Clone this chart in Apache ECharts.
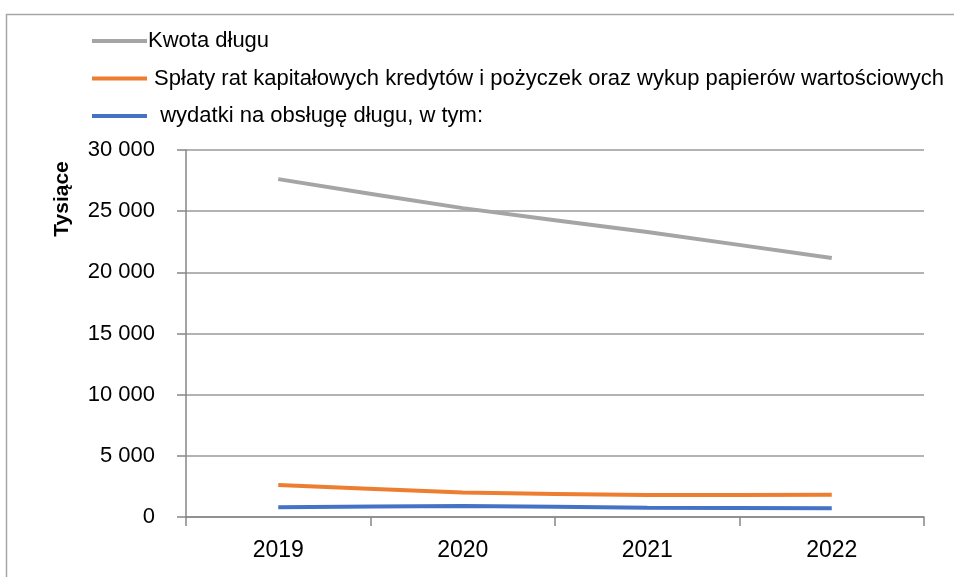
<!DOCTYPE html>
<html><head><meta charset="utf-8">
<script src="https://cdn.jsdelivr.net/npm/echarts@6/dist/echarts.min.js"></script>
<style>html,body{margin:0;padding:0;background:#fff}#c{width:954px;height:577px}</style>
</head><body><div id="c"></div>
<script>
var categories = ['2019', '2020', '2021', '2022'];
var seriesNames = ['Kwota długu', ' Spłaty rat kapitałowych kredytów i pożyczek oraz wykup papierów wartościowych', '  wydatki na obsługę długu, w tym:'];
var kwotaDlugu = [27620, 25250, 23290, 21170];
var splaty = [2620, 2010, 1800, 1820];
var wydatki = [790, 900, 760, 710];
var yTicks = [0, 5000, 10000, 15000, 20000, 25000, 30000];
var yAxisTitle = 'Tysiące';

var FONT = "'Liberation Sans', Arial, sans-serif";
var chart = echarts.init(document.getElementById('c'));
function fmt(v){ return String(v).replace(/\B(?=(\d{3})+(?!\d))/g, ' '); }
chart.setOption({
  animation: false,
  textStyle: {fontFamily: FONT},
  graphic: [
    {type: 'rect', left: 4, top: 12, shape: {x: 0, y: 0, width: 1000, height: 700}, style: {fill: 'none', stroke: '#a6a6a6', lineWidth: 1.5}, silent: true},
    {type: 'text', x: 62, y: 199, rotation: Math.PI / 2, style: {text: yAxisTitle, font: "bold 21px " + FONT, fill: '#000', textAlign: 'center', textVerticalAlign: 'middle'}}
  ],
  legend: {
    orient: 'vertical', left: 87, top: 25, itemGap: 15.5,
    itemWidth: 55, itemHeight: 4, icon: 'rect',
    textStyle: {fontSize: 22, color: '#000', fontFamily: FONT, padding: [0, 0, 0, -4]},
    data: seriesNames
  },
  grid: {left: 186, right: 30, top: 150, bottom: 60, containLabel: false},
  xAxis: {
    type: 'category', data: categories, boundaryGap: true,
    axisLine: {lineStyle: {color: '#868686', width: 1.5}},
    axisTick: {show: true, length: 9, lineStyle: {color: '#868686', width: 1.5}},
    axisLabel: {fontSize: 23, color: '#000', margin: 22, fontFamily: FONT}
  },
  yAxis: {
    type: 'value', min: yTicks[0], max: yTicks[yTicks.length - 1], interval: yTicks[1] - yTicks[0],
    axisLine: {show: true, lineStyle: {color: '#868686', width: 1.5}},
    axisTick: {show: true, length: 9, lineStyle: {color: '#868686', width: 1.5}},
    axisLabel: {fontSize: 22, color: '#000', margin: 31, formatter: fmt, fontFamily: FONT},
    splitLine: {lineStyle: {color: '#9a9a9a', width: 1.5}}
  },
  series: [
    {name: seriesNames[0], type: 'line', data: kwotaDlugu, symbol: 'none', smooth: 0.2, lineStyle: {color: '#a5a5a5', width: 4}, itemStyle: {color: '#a5a5a5'}},
    {name: seriesNames[1], type: 'line', data: splaty, symbol: 'none', smooth: 0.2, lineStyle: {color: '#ed7d31', width: 4}, itemStyle: {color: '#ed7d31'}},
    {name: seriesNames[2], type: 'line', data: wydatki, symbol: 'none', smooth: 0.2, lineStyle: {color: '#4472c4', width: 4}, itemStyle: {color: '#4472c4'}}
  ]
});
</script></body></html>
